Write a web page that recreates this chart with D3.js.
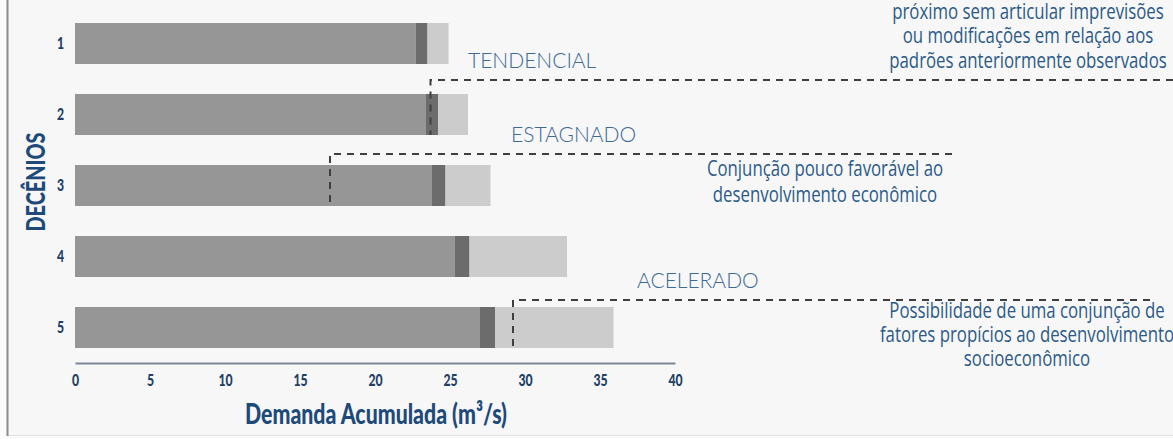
<!DOCTYPE html>
<html>
<head>
<meta charset="utf-8">
<script src="https://cdn.jsdelivr.net/npm/d3@7"></script>
<style>
  body { margin: 0; background: #fbfbfb; }
  svg { display: block; }
</style>
</head>
<body>
<svg id="chart"></svg>
<script>
// decênios and cumulative demand (m3/s) for each scenario
var decenios = ["1", "2", "3", "4", "5"];
var baseEnd = [22.7, 23.4, 23.8, 25.3, 27.0];       // medium grey part
var tendEnd = [23.5, 24.2, 24.7, 26.3, 28.0];       // dark grey part ends here
var totalEnd = [24.9, 26.2, 27.7, 32.8, 35.9];      // light grey part ends here
var xTicks = [0, 5, 10, 15, 20, 25, 30, 35, 40];

var scenarios = ["TENDENCIAL", "ESTAGNADO", "ACELERADO"];
var scenarioValue = [23.7, 17.0, 29.2];
var scenarioDecenio = ["2", "3", "5"];

var notes = [
    ["próximo sem articular imprevisões", "ou modificações em relação aos", "padrões anteriormente observados"],
    ["Conjunção pouco favorável ao", "desenvolvimento econômico"],
    ["Possibilidade de uma conjunção de", "fatores propícios ao desenvolvimento", "socioeconômico"]
];

var width = 1173,
    height = 439;

var svg = d3.select("#chart")
    .attr("width", width)
    .attr("height", height);

// panel
svg.append("rect")
    .attr("x", 7).attr("y", 0)
    .attr("width", width - 7).attr("height", 435)
    .attr("fill", "#f7f7f7");
svg.append("line")
    .attr("x1", 7).attr("x2", width).attr("y1", 435.5).attr("y2", 435.5)
    .attr("stroke", "#e2e2e2");
svg.append("line")
    .attr("x1", 7.5).attr("x2", 7.5).attr("y1", 0).attr("y2", 436)
    .attr("stroke", "#8c8c8c").attr("stroke-width", 2);

var x = d3.scaleLinear().domain([0, 40]).range([75, 675]);
var y = d3.scaleBand().domain(decenios).range([23, 348]).paddingInner(30 / 71);

var rows = decenios.map((d, i) => ({ d: d, base: baseEnd[i], tend: tendEnd[i], total: totalEnd[i] }));

var segs = [
    { from: r => 0, to: r => r.base, color: "#969696" },
    { from: r => r.base, to: r => r.tend, color: "#6c6c6c" },
    { from: r => r.tend, to: r => r.total, color: "#cccccc" }
];

var bars = svg.append("g");
segs.forEach(s => {
    bars.append("g")
        .selectAll("rect")
        .data(rows)
        .join("rect")
        .attr("x", r => x(s.from(r)))
        .attr("width", r => x(s.to(r)) - x(s.from(r)))
        .attr("y", r => y(r.d))
        .attr("height", y.bandwidth())
        .attr("fill", s.color);
});

var boldFont = "Lato, 'Open Sans', sans-serif";
var noteFont = "'Open Sans', 'Noto Sans', sans-serif";

// x axis
var xAxis = svg.append("g")
    .attr("transform", "translate(0,363)")
    .call(d3.axisBottom(x).tickValues(xTicks).tickSize(0).tickPadding(11));
xAxis.select(".domain").attr("stroke", "#7a8896").attr("stroke-width", 2);
xAxis.selectAll("text")
    .attr("font-family", boldFont)
    .attr("font-weight", 900)
    .attr("font-size", 17)
    .attr("fill", "#1f3f66")
    .attr("transform", "scale(0.72,1)")
    .attr("x", 0);

// y labels
svg.append("g")
    .selectAll("text")
    .data(decenios)
    .join("text")
    .attr("transform", d => `translate(64,${y(d) + y.bandwidth() / 2}) scale(0.72,1)`)
    .attr("dy", "0.35em")
    .attr("text-anchor", "end")
    .attr("font-family", boldFont)
    .attr("font-weight", 900)
    .attr("font-size", 17)
    .attr("fill", "#1f3f66")
    .text(d => d);

// axis titles
svg.append("text")
    .attr("transform", "translate(45,182) rotate(-90)")
    .attr("text-anchor", "middle")
    .attr("font-family", boldFont)
    .attr("font-weight", 900)
    .attr("font-size", 27)
    .attr("textLength", 99)
    .attr("lengthAdjust", "spacingAndGlyphs")
    .attr("fill", "#1e4a7a")
    .text("DECÊNIOS");

svg.append("text")
    .attr("x", 376)
    .attr("y", 424)
    .attr("text-anchor", "middle")
    .attr("font-family", boldFont)
    .attr("font-weight", 900)
    .attr("font-size", 28)
    .attr("textLength", 262)
    .attr("lengthAdjust", "spacingAndGlyphs")
    .attr("fill", "#1e4a7a")
    .text("Demanda Acumulada (m³/s)");

// scenario markers
var lineY = [80, 154, 300];
var lineEnd = [1173, 952, 1150];
var labelX = [468, 511, 637];

var marks = svg.append("g")
    .attr("fill", "none")
    .attr("stroke", "#3f3f3f")
    .attr("stroke-width", 2)
    .attr("stroke-dasharray", "7,6");

scenarios.forEach((s, i) => {
    var vx = x(scenarioValue[i]);
    var bottom = y(scenarioDecenio[i]) + y.bandwidth();
    marks.append("path")
        .attr("d", `M${lineEnd[i]},${lineY[i]}H${vx}V${bottom}`);

    svg.append("text")
        .attr("x", labelX[i])
        .attr("y", lineY[i] - 12)
        .attr("font-family", "Lato, 'Open Sans', sans-serif")
        .attr("font-weight", 300)
        .attr("font-size", 21)
        .attr("fill", "#3d6a96")
        .text(s);
});

// notes: condensed look by squeezing the text horizontally
var noteX = [1028, 825, 1027];
var noteY = [19, 176, 318];
var noteStep = [24.5, 26, 24];

notes.forEach((lines, i) => {
    svg.append("g")
        .attr("transform", `translate(${noteX[i]},0) scale(0.8,1)`)
        .append("text")
        .attr("text-anchor", "middle")
        .attr("font-family", noteFont)
        .attr("font-size", 21)
        .attr("fill", "#2b5a88")
        .selectAll("tspan")
        .data(lines)
        .join("tspan")
        .attr("x", 0)
        .attr("y", (d, j) => noteY[i] + j * noteStep[i])
        .text(d => d);
});
</script>
</body>
</html>
